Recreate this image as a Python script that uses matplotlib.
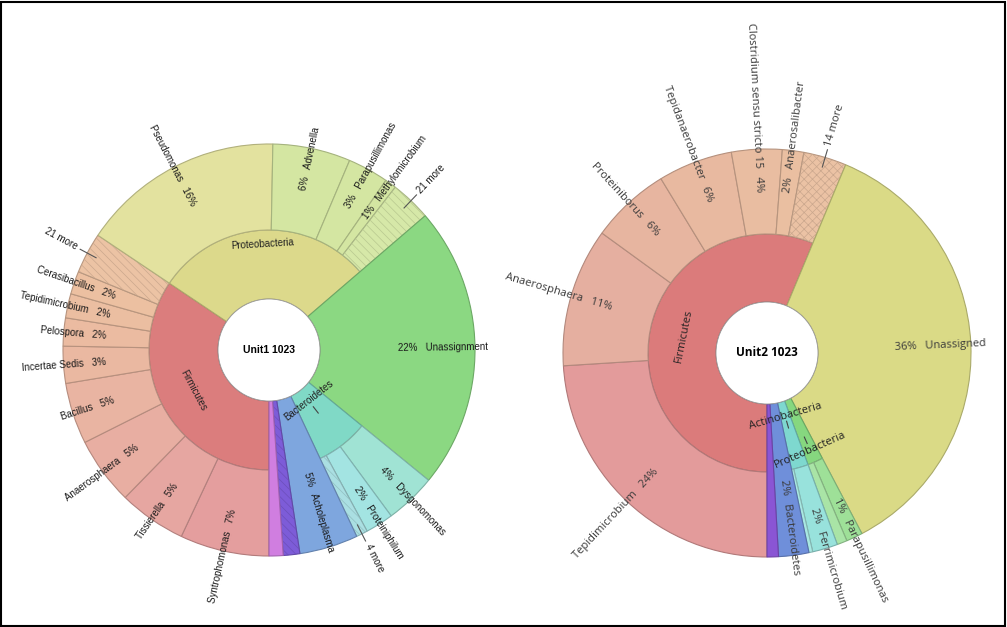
import numpy as np
import matplotlib.pyplot as plt
import matplotlib.colors as mcolors
from matplotlib.patches import Wedge, Circle, Rectangle

# ---- Unit1 data (percent of reads) ----
u1_phyla = ["Firmicutes", "Proteobacteria", "Unassignment", "Bacteroidetes",
            "Acholeplasma", "", ""]
u1_phyla_pct = [34.4, 29.3, 22.2, 7.1, 4.6, 1.3, 1.1]
u1_phyla_colors = ["#DB7D7D", "#DCD98B", "#8BD882", "#80D9C6",
                   "#7EA6DE", "#7D5CD8", "#D07EE0"]

u1_firm_names = ["Syntrophomonas", "Tissierella", "Anaerosphaera", "Bacillus",
                 "Incertae Sedis", "Pelospora", "Tepidimicrobium",
                 "Cerasibacillus", "21 more"]
u1_firm_pct = [7.0, 5.3, 5.3, 4.8, 2.9, 2.2, 1.9, 1.8, 3.2]
u1_firm_colors = ["#E49E9E", "#E6A6A1", "#E8AEA2", "#E9B4A2", "#EAB8A1",
                  "#EBBBA1", "#EBBEA1", "#ECC0A1", "#ECC3A4"]

u1_prot_names = ["Pseudomonas", "Advenella", "Parapusillimonas",
                 "Methylomicrobium", "21 more"]
u1_prot_pct = [15.9, 6.1, 3.2, 0.9, 3.2]
u1_prot_colors = ["#E3E29F", "#D4E6A2", "#D4E6A2", "#D4E6A2", "#D6E8A8"]

u1_bact_names = ["Dysgonomonas", "Proteiniphilum", "4 more"]
u1_bact_pct = [4.0, 2.2, 0.9]
u1_bact_colors = ["#A0E3D4", "#A3E4E2", "#AADFE2"]

# ---- Unit2 data ----
u2_phyla = ["Firmicutes", "Unassigned", "Proteobacteria", "Actinobacteria",
            "Bacteroidetes", ""]
u2_phyla_pct = [56.3, 36.0, 2.1, 2.3, 2.4, 0.9]
u2_phyla_colors = ["#DB7B7B", "#DADA86", "#86D77F", "#7ED8CF",
                   "#6F8FDA", "#8A55D4"]

u2_firm_names = ["Tepidimicrobium", "Anaerosphaera", "Proteiniborus",
                 "Tepidanaerobacter", "Clostridium sensu stricto 15",
                 "Anaerosalibacter", "14 more"]
u2_firm_pct = [24.0, 11.0, 6.3, 5.9, 4.0, 1.7, 3.4]
u2_firm_colors = ["#E39B9B", "#E5AFA0", "#E7B5A0", "#E8B9A0", "#E9BDA1",
                  "#EABFA1", "#EBC2A4"]

u2_prot_names = ["Parapusillimonas", ""]
u2_prot_pct = [1.3, 0.8]
u2_prot_colors = ["#9EE098", "#A9E4A6"]

u2_acti_names = ["Ferrimicrobium", ""]
u2_acti_pct = [2.0, 0.3]
u2_acti_colors = ["#98E2DC", "#A8E8E2"]


def darken(c, f):
    return tuple(np.array(mcolors.to_rgb(c)) * f)


def wedge(ax, cx, cy, r_in, r_out, a_start, span, color, hatch=None):
    # clockwise from a_start
    w = Wedge((cx, cy), r_out, a_start - span, a_start, width=r_out - r_in,
              facecolor=color, edgecolor=darken(color, 0.78), lw=0.8)
    ax.add_patch(w)
    if hatch:
        ax.add_patch(Wedge((cx, cy), r_out, a_start - span, a_start,
                           width=r_out - r_in, fill=False, hatch=hatch,
                           edgecolor=darken(color, 0.86), lw=0))


def radial_label(ax, cx, cy, r, ang, name, pct, fs, fam, col):
    t = np.radians(ang)
    x, y = cx + r * np.cos(t), cy + r * np.sin(t)
    if np.cos(t) >= 0:
        s = f"{round(pct)}%   {name}"
        ax.text(x, y, s, rotation=ang, ha="left", va="center",
                rotation_mode="anchor", fontsize=fs, family=fam, color=col)
    else:
        s = f"{name}   {round(pct)}%"
        ax.text(x, y, s, rotation=ang - 180, ha="right", va="center",
                rotation_mode="anchor", fontsize=fs, family=fam, color=col)


def more_label(ax, cx, cy, R, ang, name, fs, fam, col):
    t = np.radians(ang)
    c, s = np.cos(t), np.sin(t)
    ax.plot([cx + (R - 10) * c, cx + (R + 8) * c],
            [cy + (R - 10) * s, cy + (R + 8) * s], color="#555555", lw=0.8)
    x, y = cx + (R + 12) * c, cy + (R + 12) * s
    if c >= 0:
        ax.text(x, y, name, rotation=ang, ha="left", va="center",
                rotation_mode="anchor", fontsize=fs, family=fam, color=col)
    else:
        ax.text(x, y, name, rotation=ang - 180, ha="right", va="center",
                rotation_mode="anchor", fontsize=fs, family=fam, color=col)


def tang_label(ax, cx, cy, r, ang, name, fs, fam, col, tick=None):
    t = np.radians(ang)
    rot = ang - 90 if np.sin(t) > 0 else ang + 90
    rot = (rot + 180) % 360 - 180
    ax.text(cx + r * np.cos(t), cy + r * np.sin(t), name, rotation=rot,
            ha="center", va="center", rotation_mode="anchor",
            fontsize=fs, family=fam, color=col)
    if tick is not None:
        ax.plot([cx + tick[0] * np.cos(t), cx + tick[1] * np.cos(t)],
                [cy + tick[0] * np.sin(t), cy + tick[1] * np.sin(t)],
                color="#444444", lw=0.8)


def draw_chart(ax, cx, cy, r0, r1, R, phyla, ppct, pcol, children, title,
               fs, fam, col, hatch, label_off):
    a = 270.0
    for i, ph in enumerate(phyla):
        span = ppct[i] * 3.6
        mid = a - span / 2
        kids = children.get(ph)
        if kids is None:
            wedge(ax, cx, cy, r0, R, a, span, pcol[i],
                  hatch if ph == "" and i == len(phyla) - 2 else None)
            if ph:
                radial_label(ax, cx, cy, (r0 + R) / 2, mid, ph, ppct[i],
                             fs, fam, col)
        else:
            wedge(ax, cx, cy, r0, r1, a, span, pcol[i])
            names, pcts, cols = kids
            b = a
            for n, p, c in zip(names, pcts, cols):
                sp = p * 3.6
                more = n.endswith("more")
                wedge(ax, cx, cy, r1, R, b, sp, c, hatch if more else None)
                if more:
                    more_label(ax, cx, cy, R, b - sp / 2, n, fs, fam, col)
                elif n:
                    radial_label(ax, cx, cy, (r1 + R) / 2, b - sp / 2, n, p,
                                 fs, fam, col)
                b -= sp
            rm = (r0 + r1) / 2
            off, tk = label_off.get(ph, (0, None))
            tang_label(ax, cx, cy, rm + off, mid, ph, fs, fam, "#222222",
                       tick=tk)
        a -= span
    ax.add_patch(Circle((cx, cy), r0, facecolor="white",
                        edgecolor="#999999", lw=0.6))
    ax.text(cx, cy, title, ha="center", va="center", fontsize=fs + 0.5,
            fontweight="bold", family=fam, color="black")


plt.rcParams["hatch.linewidth"] = 0.5

fig = plt.figure(figsize=(10.07, 6.27), dpi=100)
ax = fig.add_axes([0, 0, 1, 1])
ax.set_xlim(0, 1007)
ax.set_ylim(0, 627)
ax.set_aspect("equal")
ax.axis("off")

left_font = ["Liberation Sans", "DejaVu Sans"]
right_font = ["Open Sans", "DejaVu Sans"]

draw_chart(ax, 269, 277, 51, 120, 206,
           u1_phyla, u1_phyla_pct, u1_phyla_colors,
           {"Firmicutes": (u1_firm_names, u1_firm_pct, u1_firm_colors),
            "Proteobacteria": (u1_prot_names, u1_prot_pct, u1_prot_colors),
            "Bacteroidetes": (u1_bact_names, u1_bact_pct, u1_bact_colors)},
           "Unit1 1023", 7, left_font, "#1a1a1a", "\\\\\\\\",
           {"Bacteroidetes": (-21, (72, 80)),
            "Proteobacteria": (21, None)})

draw_chart(ax, 767, 274, 51, 119, 204,
           u2_phyla, u2_phyla_pct, u2_phyla_colors,
           {"Firmicutes": (u2_firm_names, u2_firm_pct, u2_firm_colors),
            "Proteobacteria": (u2_prot_names, u2_prot_pct, u2_prot_colors),
            "Actinobacteria": (u2_acti_names, u2_acti_pct, u2_acti_colors)},
           "Unit2 1023", 8, right_font, "#3a3a3a", "xxxx",
           {"Proteobacteria": (21, (92, 99)),
            "Actinobacteria": (-19, (71, 78))})

fig.patches.append(Rectangle((0.001, 0.002), 0.997, 0.995,
                             transform=fig.transFigure, fill=False,
                             ec="black", lw=1.5))

fig.savefig("out.png", dpi=100)
